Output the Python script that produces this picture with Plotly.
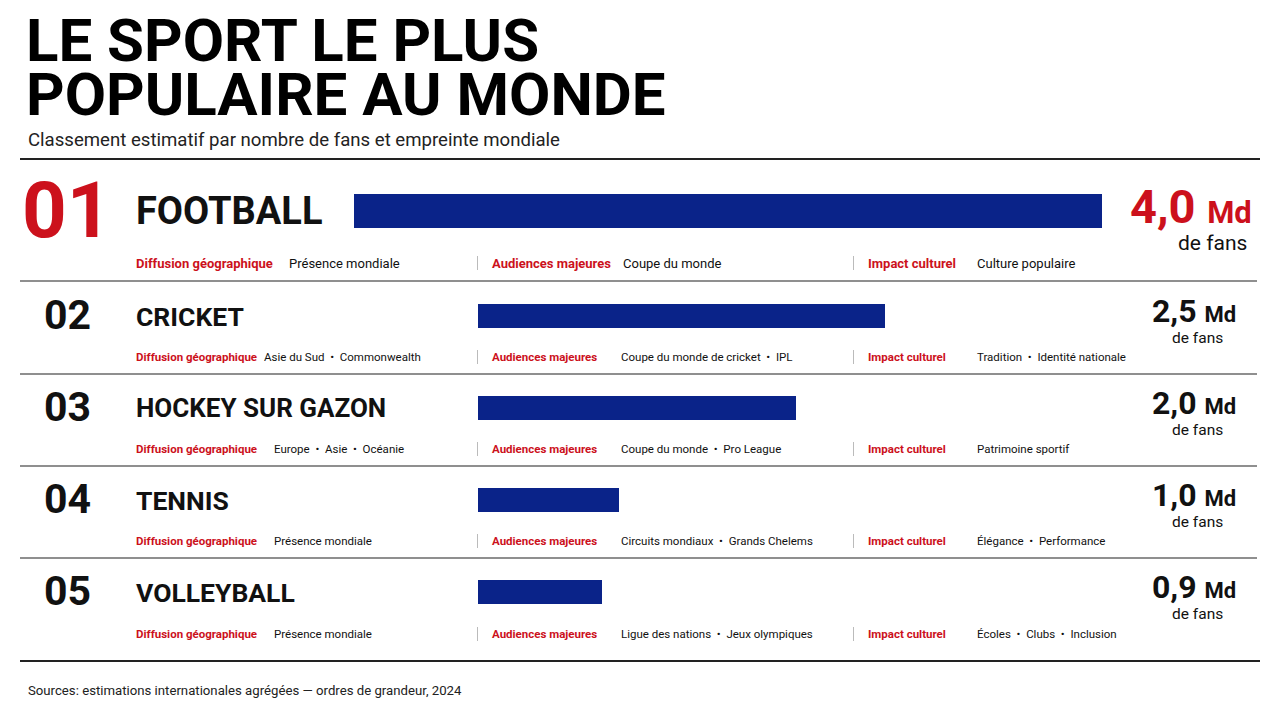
import plotly.graph_objects as go

# ---------------- data ----------------
ranks = ["01", "02", "03", "04", "05"]
sports = ["FOOTBALL", "CRICKET", "HOCKEY SUR GAZON", "TENNIS", "VOLLEYBALL"]
fans_md = [4.0, 2.5, 2.0, 1.0, 0.9]
diffusion = ["Présence mondiale", "Asie du Sud  •  Commonwealth", "Europe  •  Asie  •  Océanie",
             "Présence mondiale", "Présence mondiale"]
audiences = ["Coupe du monde", "Coupe du monde de cricket  •  IPL", "Coupe du monde  •  Pro League",
             "Circuits mondiaux  •  Grands Chelems", "Ligue des nations  •  Jeux olympiques"]
impact = ["Culture populaire", "Tradition  •  Identité nationale", "Patrimoine sportif",
          "Élégance  •  Performance", "Écoles  •  Clubs  •  Inclusion"]

title_lines = ["LE SPORT LE PLUS", "POPULAIRE AU MONDE"]
subtitle = "Classement estimatif par nombre de fans et empreinte mondiale"
source = "Sources: estimations internationales agrégées — ordres de grandeur, 2024"
lbl_diff = "Diffusion géographique"
lbl_aud = "Audiences majeures"
lbl_imp = "Impact culturel"
unit_txt = "Md"
fans_txt = "de fans"

# ---------------- style ----------------
W, H = 1280, 720
NAVY = "#0a2389"
RED = "#cc111c"
BLACK = "#111111"
FONT = "Roboto"

def py(px):
    return 1 - px / H

def px_x(px):
    return px / W

fig = go.Figure()

# football (own row, own scale)
fig.add_trace(go.Bar(x=[fans_md[0]], y=[sports[0]], orientation="h",
                     marker=dict(color=NAVY, line_width=0), width=0.34,
                     xaxis="x", yaxis="y", hoverinfo="skip", showlegend=False))
# others
fig.add_trace(go.Bar(x=fans_md[1:], y=sports[1:], orientation="h",
                     marker=dict(color=NAVY, line_width=0), width=0.27,
                     xaxis="x2", yaxis="y2", hoverinfo="skip", showlegend=False))

ann = []
# Title (two lines, placed separately for tight leading)
for ln, cy in zip(title_lines, (40, 95)):
    ann.append(dict(x=px_x(24), y=py(cy), xanchor="left", yanchor="middle",
                    text="<b>%s</b>" % ln,
                    font=dict(family=FONT, size=60, color="#000000", weight=900)))
ann.append(dict(x=px_x(26), y=py(140), xanchor="left", yanchor="middle", text=subtitle,
                font=dict(family=FONT, size=18.6, color="#222222")))
ann.append(dict(x=px_x(26), y=py(690), xanchor="left", yanchor="middle", text=source,
                font=dict(family=FONT, size=13.2, color="#222222")))

row_cy = [211, 316, 408, 500, 592]
detail_cy = [263, 357, 449, 541, 634]
val_x0 = [287, 262, 272, 272, 272]
sport_fs = [38, 26.5, 26, 26.5, 26.5]

for i in range(5):
    first = i == 0
    col = RED if first else BLACK
    ann.append(dict(x=px_x(67), y=py(row_cy[i] - 1), xanchor="center", yanchor="middle",
                    text="<b>%s</b>" % ranks[i],
                    font=dict(family=FONT, size=78 if first else 41, color=col, weight=900)))
    ann.append(dict(x=px_x(134), y=py(row_cy[i]), xanchor="left", yanchor="middle",
                    text="<b>%s</b>" % sports[i],
                    font=dict(family=FONT, size=sport_fs[i], color=BLACK, weight=900)))
    vtxt = ("%.1f" % fans_md[i]).replace(".", ",")
    if first:
        ann.append(dict(x=px_x(1254), y=py(207), xanchor="right", yanchor="middle",
                        text="<b>%s <span style='font-size:31px'>%s</span></b>" % (vtxt, unit_txt),
                        font=dict(family=FONT, size=47, color=RED)))
        ann.append(dict(x=px_x(1249), y=py(243), xanchor="right", yanchor="middle",
                        text=fans_txt, font=dict(family=FONT, size=21, color=BLACK)))
    else:
        ann.append(dict(x=px_x(1194), y=py(row_cy[i] - 5), xanchor="center", yanchor="middle",
                        text="<b>%s <span style='font-size:22px'>%s</span></b>" % (vtxt, unit_txt),
                        font=dict(family=FONT, size=32, color=BLACK)))
        ann.append(dict(x=px_x(1197), y=py(row_cy[i] + 22), xanchor="center", yanchor="middle",
                        text=fans_txt, font=dict(family=FONT, size=15.5, color=BLACK)))
    fs = 13 if first else 11.5
    dy = py(detail_cy[i])
    ann.append(dict(x=px_x(134), y=dy, xanchor="left", yanchor="middle",
                    text="<b>%s</b>" % lbl_diff, font=dict(family=FONT, size=fs, color=RED)))
    ann.append(dict(x=px_x(val_x0[i]), y=dy, xanchor="left", yanchor="middle",
                    text=diffusion[i], font=dict(family=FONT, size=fs, color=BLACK)))
    ann.append(dict(x=px_x(490), y=dy, xanchor="left", yanchor="middle",
                    text="<b>%s</b>" % lbl_aud, font=dict(family=FONT, size=fs, color=RED)))
    ann.append(dict(x=px_x(621 if first else 619), y=dy, xanchor="left", yanchor="middle",
                    text=audiences[i], font=dict(family=FONT, size=fs, color=BLACK)))
    ann.append(dict(x=px_x(866), y=dy, xanchor="left", yanchor="middle",
                    text="<b>%s</b>" % lbl_imp, font=dict(family=FONT, size=fs, color=RED)))
    ann.append(dict(x=px_x(975), y=dy, xanchor="left", yanchor="middle",
                    text=impact[i], font=dict(family=FONT, size=fs, color=BLACK)))

shapes = []
# vertical separators in detail lines
for i in range(5):
    for xx in (477.5, 853.5):
        shapes.append(dict(type="line", xref="paper", yref="paper",
                           x0=px_x(xx), x1=px_x(xx), y0=py(detail_cy[i] - 7), y1=py(detail_cy[i] + 7),
                           line=dict(color="#bbbbbb", width=1)))
# horizontal rules
shapes.append(dict(type="line", xref="paper", yref="paper", x0=px_x(20), x1=px_x(1260),
                   y0=py(159), y1=py(159), line=dict(color="#222222", width=2)))
for yy in (281, 374, 466, 558):
    shapes.append(dict(type="line", xref="paper", yref="paper", x0=px_x(20), x1=px_x(1257),
                       y0=py(yy), y1=py(yy), line=dict(color="#6a6a6a", width=1.5)))
shapes.append(dict(type="line", xref="paper", yref="paper", x0=px_x(20), x1=px_x(1260),
                   y0=py(661), y1=py(661), line=dict(color="#222222", width=2)))

hidden = dict(visible=False, showgrid=False, zeroline=False, fixedrange=True)
fig.update_layout(
    width=W, height=H,
    margin=dict(l=0, r=0, t=0, b=0),
    paper_bgcolor="white", plot_bgcolor="rgba(0,0,0,0)",
    xaxis=dict(domain=[px_x(354), px_x(1102)], range=[0, 4.0], **hidden),
    yaxis=dict(domain=[py(261), py(161)], range=[-0.5, 0.5], **hidden),
    xaxis2=dict(domain=[px_x(478), px_x(1150)], range=[0.2, 4.0], anchor="y2", **hidden),
    yaxis2=dict(domain=[py(638), py(270)], range=[3.5, -0.5], anchor="x2", **hidden),
    annotations=ann, shapes=shapes, bargap=0, showlegend=False,
)
for a in fig.layout.annotations:
    a.update(xref="paper", yref="paper", showarrow=False)

fig.write_html("out.html", config={"displayModeBar": False})
